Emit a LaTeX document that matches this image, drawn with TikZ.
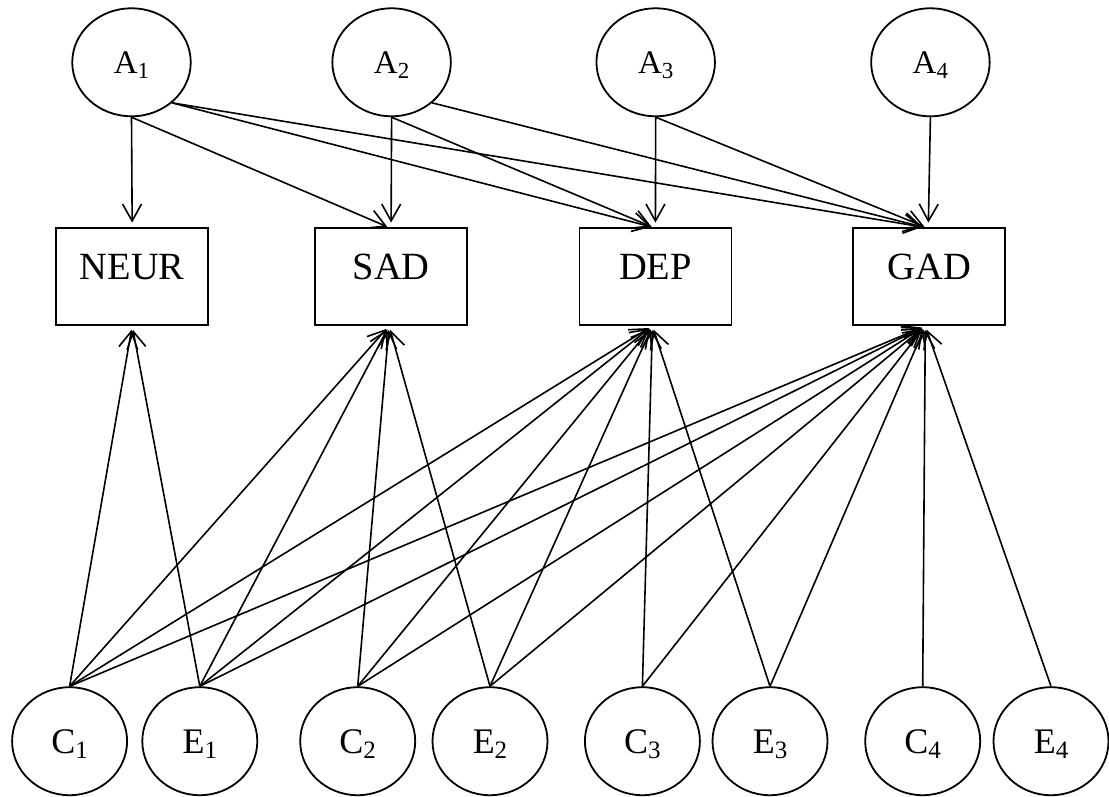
\documentclass[tikz,border=0pt]{standalone}
\usepackage{fontspec}
\setmainfont{Liberation Serif}
\usetikzlibrary{shapes.geometric,arrows.meta}
\newcommand\sublbl[2]{#1\raisebox{-5pt}{\fontsize{23}{23}\selectfont #2}}
\newcommand\sublblb[2]{#1\raisebox{-5pt}{\fontsize{25}{25}\selectfont #2}}
\begin{document}
\begin{tikzpicture}[x=1pt,y=-1pt,
  latent/.style={draw,ellipse,line width=1.8pt,inner sep=0pt,
    minimum height=108pt},
  toplat/.style={latent,minimum width=118.5pt,font=\fontsize{33}{33}\selectfont,
    text height=21.8pt,text depth=0pt},
  botlat/.style={latent,minimum width=115pt,font=\fontsize{36}{36}\selectfont,
    text height=23.8pt,text depth=0pt},
  obsbox/.style={draw,rectangle,line width=1.8pt,inner sep=0pt,
    minimum width=152pt,minimum height=97pt,
    font=\fontsize{38.5}{38.5}\selectfont,text height=25.5pt,text depth=20pt},
  arr/.style={line width=1.6pt,-{Straight Barb[length=17pt,width=19pt]}},
  gap/.style={shorten >=4.5pt}]
\useasboundingbox (0,0) rectangle (1109,796);
% top latent
\node[toplat] (A1) at (131.5,62.3) {\sublbl{A}{1}};
\node[toplat] (A2) at (391.6,62.3) {\sublbl{A}{2}};
\node[toplat] (A3) at (655.7,62.3) {\sublbl{A}{3}};
\node[toplat] (A4) at (930.4,62.3) {\sublbl{A}{4}};
% boxes
\node[obsbox] (NEUR) at (132.2,276.5) {NEUR};
\node[obsbox] (SAD) at (391.1,276.5) {SAD};
\node[obsbox] (DEP) at (655.4,276.5) {DEP};
\node[obsbox] (GAD) at (929.3,276.5) {GAD};
% bottom latent
\node[botlat] (C1) at (69.6,741.2) {\sublblb{C}{1}};
\node[botlat] (E1) at (199.8,741.2) {\sublblb{E}{1}};
\node[botlat] (C2) at (357.7,741.2) {\sublblb{C}{2}};
\node[botlat] (E2) at (490,741.2) {\sublblb{E}{2}};
\node[botlat] (C3) at (642.4,741.2) {\sublblb{C}{3}};
\node[botlat] (E3) at (770,741.2) {\sublblb{E}{3}};
\node[botlat] (C4) at (922.7,741.2) {\sublblb{C}{4}};
\node[botlat] (E4) at (1051,741.2) {\sublblb{E}{4}};
% A paths
\draw[arr,gap] (A1.south) -- (NEUR.north);
\draw[arr,shorten >=1pt] (A1.south) -- ([xshift=-3pt]SAD.north);
\draw[arr,shorten >=1pt] (A1.-45) -- ([xshift=-3pt]DEP.north);
\draw[arr,shorten >=1pt] (A1.-45) -- ([xshift=-6pt]GAD.north);
\draw[arr,gap] (A2.south) -- (SAD.north);
\draw[arr,shorten >=1pt] (A2.south) -- ([xshift=-3pt]DEP.north);
\draw[arr,shorten >=1pt] (A2.-45) -- ([xshift=-6pt]GAD.north);
\draw[arr,gap] (A3.south) -- (DEP.north);
\draw[arr,shorten >=1pt] (A3.south) -- ([xshift=-4pt]GAD.north);
\draw[arr,gap] (A4.south) -- ([xshift=-1pt]GAD.north);
% C and E paths
\foreach \s in {C1,E1}
  \draw[arr,shorten >=4pt] (\s.north) -- (NEUR.south);
\foreach \s in {C1,E1,C2,E2}
  \draw[arr,shorten >=4pt] (\s.north) -- ([xshift=-2pt]SAD.south);
\foreach \s in {C1,E1,C2,E2,C3,E3}
  \draw[arr,shorten >=4pt] (\s.north) -- ([xshift=-3pt]DEP.south);
\foreach \s in {C1,E1,C2,E2,C3,E3,C4,E4}
  \draw[arr,shorten >=4pt] (\s.north) -- ([xshift=-4pt]GAD.south);
\end{tikzpicture}
\end{document}
